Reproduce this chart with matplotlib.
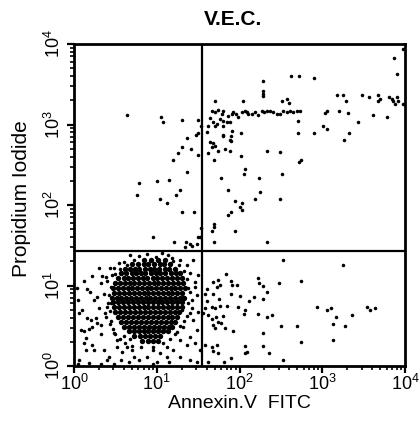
import numpy as np
import matplotlib
matplotlib.use("Agg")
import matplotlib.pyplot as plt
from matplotlib.ticker import LogLocator, NullFormatter

plt.rcParams['font.family'] = ['Liberation Sans', 'DejaVu Sans']
plt.rcParams['mathtext.fontset'] = 'custom'
plt.rcParams['mathtext.rm'] = 'Liberation Sans'
plt.rcParams['mathtext.it'] = 'Liberation Sans:italic'
plt.rcParams['mathtext.bf'] = 'Liberation Sans:bold'

# ---------------- text / axis data ----------------
title = "V.E.C."
x_label = "Annexin.V  FITC"
y_label = "Propidium Iodide"
decades = [1, 10, 100, 1000, 10000]
decade_labels = [r"$10^{0}$", r"$10^{1}$", r"$10^{2}$", r"$10^{3}$", r"$10^{4}$"]
gate_annexin = 35.0   # vertical quadrant gate
gate_pi = 27.0        # horizontal quadrant gate

# ---------------- events, stored as log10 fluorescence (Annexin, PI) ----------------
upper_left_log = [
    (0.646, 3.118), (1.055, 3.093), (1.079, 3.030), (1.301, 3.055), (1.498, 3.055),
    (1.531, 2.981), (1.498, 2.898), (1.474, 2.865), (1.361, 2.832), (1.308, 2.724),
    (1.417, 2.695), (1.253, 2.642), (1.502, 2.617), (1.196, 2.555), (1.361, 2.413),
    (0.785, 2.273), (1.006, 2.301), (1.148, 2.306), (0.757, 2.127), (1.284, 2.190),
    (1.229, 2.127), (1.035, 2.074), (1.120, 2.021), (1.308, 1.909), (1.450, 1.909),
    (1.531, 1.710), (0.954, 1.598), (1.498, 1.606), (1.522, 1.598), (1.208, 1.540),
    (1.349, 1.540), (1.341, 1.482), (1.398, 1.512), (1.429, 1.490), (1.489, 1.512),
]

upper_right_log = [
    (2.287, 3.543), (2.287, 3.419), (2.287, 3.378), (2.287, 3.357), (2.618, 3.598),
    (2.722, 3.598), (1.703, 3.288), (2.045, 3.288), (2.509, 3.288), (2.577, 3.316),
    (2.601, 3.263),
    (1.663, 3.171), (1.703, 3.151), (1.743, 3.180), (1.784, 3.130), (1.804, 3.171),
    (1.864, 3.109), (1.905, 3.130), (1.924, 3.151), (1.957, 3.130), (1.985, 3.089),
    (2.026, 3.151), (2.066, 3.171), (2.086, 3.151), (2.106, 3.130), (2.147, 3.130),
    (2.186, 3.151), (2.226, 3.121), (2.267, 3.171), (2.295, 3.151), (2.328, 3.171),
    (2.368, 3.171), (2.408, 3.151), (2.449, 3.130), (2.488, 3.130), (2.528, 3.171),
    (2.569, 3.151), (2.609, 3.171), (2.649, 3.151), (2.690, 3.171), (2.730, 3.171),
    (1.643, 3.080), (1.683, 3.027), (1.724, 3.006), (1.764, 3.068), (1.804, 3.039),
    (1.845, 3.027), (1.884, 3.027), (1.622, 2.985), (1.703, 2.985), (1.804, 2.985),
    (1.610, 2.910), (1.804, 2.873), (1.905, 2.915), (2.014, 2.890), (1.893, 2.798),
    (2.702, 3.047), (2.702, 2.890), (1.643, 2.778), (1.683, 2.766), (1.663, 2.716),
    (1.703, 2.736), (1.743, 2.674), (1.824, 2.695), (1.884, 2.667), (2.328, 2.667),
    (2.488, 2.654),
    (3.971, 3.937), (3.866, 3.822), (3.898, 3.627), (2.899, 3.577), (3.173, 3.370),
    (3.253, 3.370), (3.282, 3.288), (3.475, 3.370), (3.564, 3.345), (3.669, 3.370),
    (3.696, 3.316), (3.676, 3.288), (3.809, 3.345), (3.838, 3.316), (3.857, 3.288),
    (3.898, 3.345), (3.918, 3.288), (3.877, 3.254), (3.971, 3.254), (3.032, 3.142),
    (3.060, 3.171), (3.201, 3.171), (3.314, 3.142), (3.616, 3.117), (3.785, 3.089),
    (3.427, 3.027), (3.012, 2.977), (3.060, 2.947), (2.899, 2.894), (3.322, 2.894),
    (3.258, 2.807),
    (2.722, 2.537), (2.739, 2.559), (1.772, 2.339), (2.066, 2.443), (2.054, 2.385),
    (2.238, 2.339), (2.509, 2.385), (2.014, 2.612), (1.884, 2.807), (1.897, 2.857),
    (1.804, 2.857), (1.691, 2.559),
    (1.615, 2.642), (1.864, 2.186), (2.247, 2.157), (1.945, 2.049), (2.026, 2.021),
    (2.005, 1.971), (2.033, 1.938), (2.186, 2.070), (2.488, 2.070), (1.864, 1.875),
    (1.893, 1.909), (1.695, 1.764), (1.695, 1.730), (1.671, 1.680), (1.945, 1.680),
    (1.695, 1.544), (2.328, 1.544),
]

lower_right_log = [
    (2.521, 1.317), (3.246, 1.254), (1.836, 1.143), (1.683, 1.047), (1.743, 1.068),
    (1.764, 1.006), (1.724, 0.985), (1.893, 1.056), (1.905, 1.006), (1.973, 1.002),
    (2.226, 1.089), (2.238, 1.027), (2.279, 0.997), (2.335, 0.923), (2.473, 1.031),
    (2.742, 1.059), (1.603, 0.953), (1.582, 0.894), (1.683, 0.894), (1.610, 0.811),
    (1.582, 0.717), (1.663, 0.729), (1.703, 0.724), (1.755, 0.836), (1.764, 0.749),
    (1.845, 0.745), (1.893, 0.891), (2.005, 0.869), (1.977, 0.729), (2.066, 0.696),
    (2.118, 0.807), (2.174, 0.861), (2.279, 0.832), (1.562, 0.655), (1.622, 0.633),
    (1.663, 0.580), (1.715, 0.612), (1.743, 0.550), (1.776, 0.530), (1.683, 0.509),
    (1.703, 0.468), (1.824, 0.468), (1.804, 0.625), (1.924, 0.438), (2.057, 0.642),
    (2.226, 0.642), (2.328, 0.612), (2.388, 0.633), (2.279, 0.414), (2.501, 0.497),
    (2.690, 0.497), (2.939, 0.729), (3.053, 0.696), (3.101, 0.724), (3.165, 0.612),
    (3.132, 0.522), (3.277, 0.497), (3.358, 0.633), (3.543, 0.729), (3.576, 0.696),
    (3.632, 0.724), (2.742, 0.298), (3.132, 0.327), (1.663, 0.240), (1.724, 0.261),
    (1.683, 0.186), (1.743, 0.165), (2.066, 0.248), (2.066, 0.158), (2.094, 0.178),
    (2.279, 0.248), (2.359, 0.158), (2.528, 0.075), (1.897, 0.103), (1.812, 0.046),
    (1.622, 0.046), (1.583, 0.261),
]

lower_left_halo_log = [
    (0.302, 1.213), (0.342, 1.118), (0.383, 1.109), (0.323, 1.035), (0.161, 0.953),
    (0.193, 0.923), (0.040, 0.965), (0.281, 0.861), (0.242, 0.820), (0.100, 0.696),
    (0.060, 0.655), (0.161, 0.592), (0.202, 0.571), (0.081, 0.447), (0.121, 0.435),
    (0.181, 0.456), (0.221, 0.481), (0.281, 0.530), (0.323, 0.509), (0.121, 0.282),
    (0.141, 0.199), (0.221, 0.261), (0.242, 0.199), (0.362, 0.199), (0.402, 0.075),
    (0.423, 0.116), (0.060, 0.075), (0.181, 0.034), (0.483, 0.406), (0.523, 0.323),
    (0.402, 0.737), (0.443, 0.779), (0.383, 0.612), (0.451, 0.563), (0.523, 0.240),
    (0.583, 0.178), (0.644, 0.240), (0.705, 0.199), (0.564, 0.075), (0.665, 0.053),
    (0.725, 0.116), (0.785, 0.075), (0.806, 0.240), (0.463, 1.130), (0.483, 1.213),
    (0.443, 0.985), (0.544, 1.275), (0.604, 1.295),
    (1.140, 1.379), (1.180, 1.338), (1.281, 1.317), (1.362, 1.254), (1.441, 1.317),
    (1.402, 1.151), (1.502, 1.130), (1.321, 1.027), (1.381, 0.965), (1.462, 1.047),
    (1.321, 0.861), (1.422, 0.820), (1.483, 0.882), (1.301, 0.696), (1.402, 0.655),
    (1.502, 0.674), (1.441, 0.571), (1.321, 0.488), (1.483, 0.447), (1.402, 0.364),
    (1.281, 0.323), (1.362, 0.261), (1.462, 0.282), (1.522, 0.199), (1.200, 0.199),
    (1.281, 0.116), (1.402, 0.075), (1.483, 0.053), (0.958, 0.199), (1.039, 0.158),
    (1.120, 0.116), (0.878, 0.116), (0.999, 0.053),
    (0.400, 1.050), (0.360, 0.900), (0.410, 0.780), (0.380, 0.660), (0.440, 0.520),
    (0.500, 0.400), (0.550, 0.330), (0.620, 0.280), (0.700, 0.250), (0.950, 0.240),
    (1.080, 0.280), (1.160, 0.340), (1.220, 0.400), (1.280, 0.500), (1.360, 0.620),
    (1.380, 0.780), (1.400, 0.920), (1.370, 1.080), (1.330, 1.180), (1.270, 1.250),
    (1.200, 1.300), (0.720, 1.320), (0.640, 1.260), (0.550, 1.200), (0.490, 1.140),
    (0.440, 1.220), (0.300, 0.720), (0.260, 0.600), (0.330, 0.400), (0.150, 0.350),
    (0.050, 0.820), (0.120, 1.050), (0.220, 1.120), (0.480, 0.030), (0.950, 0.030),
    (1.150, 0.050), (0.330, 0.030), (0.050, 0.030),
    (0.780, 1.370), (0.880, 1.390), (0.990, 1.360), (1.060, 1.400), (0.680, 1.380),
    (0.420, 0.880), (0.430, 0.680), (0.470, 0.460), (0.600, 0.370), (0.680, 0.330),
    (1.120, 0.230), (1.250, 0.420), (1.330, 0.560), (1.420, 0.720), (1.460, 0.980),
]

# dense live-cell population, one row of log10(Annexin) values per log10(PI) level
core_pi_log = [1.32, 1.27, 1.21, 1.15, 1.09, 1.03, 0.97, 0.91, 0.85,
               0.79, 0.73, 0.67, 0.61, 0.55, 0.49, 0.43, 0.37, 0.31]
core_annexin_log = [
    [0.84, 0.93, 1.02, 1.10],
    [0.70, 0.77, 0.85, 0.90, 0.97, 1.04, 1.09, 1.16],
    [0.62, 0.68, 0.74, 0.79, 0.86, 0.92, 0.97, 1.03, 1.10, 1.15, 1.22],
    [0.57, 0.63, 0.70, 0.75, 0.81, 0.86, 0.93, 0.99, 1.04, 1.10, 1.17, 1.23, 1.28],
    [0.53, 0.60, 0.65, 0.71, 0.77, 0.83, 0.88, 0.95, 1.00, 1.06, 1.12, 1.18, 1.24, 1.30],
    [0.50, 0.56, 0.62, 0.68, 0.73, 0.79, 0.85, 0.91, 0.97, 1.02, 1.08, 1.14, 1.20, 1.26, 1.32],
    [0.47, 0.53, 0.59, 0.65, 0.70, 0.76, 0.82, 0.88, 0.93, 0.99, 1.05, 1.11, 1.17, 1.22, 1.28, 1.34],
    [0.48, 0.54, 0.60, 0.66, 0.72, 0.78, 0.84, 0.90, 0.96, 1.02, 1.07, 1.13, 1.19, 1.25, 1.31],
    [0.46, 0.52, 0.57, 0.63, 0.69, 0.75, 0.81, 0.87, 0.92, 0.98, 1.04, 1.10, 1.16, 1.22, 1.28, 1.33],
    [0.47, 0.53, 0.59, 0.65, 0.71, 0.77, 0.83, 0.89, 0.95, 1.01, 1.06, 1.12, 1.18, 1.24, 1.30],
    [0.48, 0.54, 0.60, 0.66, 0.72, 0.78, 0.84, 0.90, 0.96, 1.01, 1.07, 1.13, 1.19, 1.25, 1.31],
    [0.50, 0.56, 0.62, 0.68, 0.74, 0.80, 0.86, 0.92, 0.98, 1.04, 1.10, 1.16, 1.22, 1.27],
    [0.53, 0.59, 0.65, 0.71, 0.77, 0.83, 0.89, 0.95, 1.01, 1.07, 1.13, 1.19, 1.25],
    [0.57, 0.63, 0.69, 0.75, 0.81, 0.87, 0.93, 0.99, 1.05, 1.11, 1.17, 1.22],
    [0.61, 0.67, 0.73, 0.79, 0.85, 0.91, 0.97, 1.03, 1.09, 1.15, 1.19],
    [0.66, 0.72, 0.78, 0.84, 0.90, 0.96, 1.02, 1.08, 1.13],
    [0.73, 0.80, 0.86, 0.92, 0.98, 1.04],
    [0.82, 0.89, 0.96, 1.01],
]

# ---------------- build ----------------
sparse = np.array(upper_left_log + upper_right_log + lower_right_log + lower_left_halo_log)
sparse_x = 10 ** sparse[:, 0]
sparse_y = 10 ** sparse[:, 1]
core_x = 10 ** np.concatenate([np.array(r) for r in core_annexin_log])
core_y = 10 ** np.concatenate([np.full(len(r), p) for r, p in zip(core_annexin_log, core_pi_log)])

fig = plt.figure(figsize=(4.2, 4.32), dpi=100)
ax = fig.add_axes([74 / 420, 66 / 432, 331 / 420, 322 / 432])

ax.scatter(core_x, core_y, s=15, c="black", linewidths=0, zorder=2)
ax.scatter(sparse_x, sparse_y, s=6.5, c="black", linewidths=0, zorder=2)
ax.axvline(gate_annexin, color="black", lw=1.6, zorder=3)
ax.axhline(gate_pi, color="black", lw=1.6, zorder=3)

ax.set_xscale("log")
ax.set_yscale("log")
ax.set_xlim(decades[0], decades[-1])
ax.set_ylim(decades[0], decades[-1])
ax.set_xticks(decades, decade_labels)
ax.set_yticks(decades, decade_labels)
for a in (ax.xaxis, ax.yaxis):
    a.set_minor_locator(LogLocator(base=10, subs=np.arange(2, 10)))
    a.set_minor_formatter(NullFormatter())
ax.tick_params(which="major", direction="out", length=5, width=1.6, labelsize=13, pad=1)
ax.tick_params(which="minor", direction="out", length=3, width=1.2)
ax.tick_params(axis="y", which="major", labelrotation=90, pad=2)
for lab in ax.get_yticklabels():
    lab.set_va("center")
for sp in ax.spines.values():
    sp.set_linewidth(2.0)

ax.set_xlabel(x_label, fontsize=14)
ax.xaxis.set_label_coords(0.5, -0.09)
ax.set_ylabel(y_label, fontsize=15)
ax.yaxis.set_label_coords(-0.13, 0.52)
ax.set_title(title, fontsize=15, fontweight="bold", x=0.48, pad=14)

fig.savefig("out.png", dpi=100)
